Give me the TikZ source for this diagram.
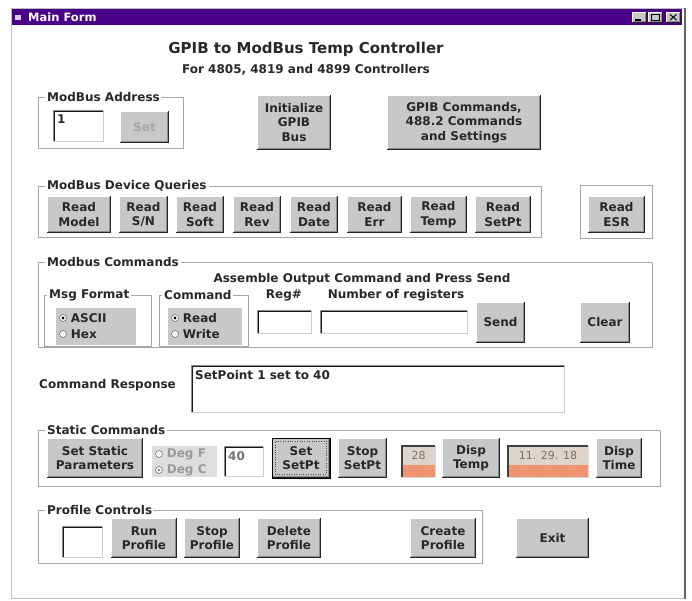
\documentclass[tikz,border=0pt]{standalone}
\usepackage{fontspec}
\setmainfont{DejaVu Sans}
\usetikzlibrary{calc,positioning,patterns}

\definecolor{titlebar}{RGB}{72,0,136}
\definecolor{btnface}{RGB}{200,200,200}
\definecolor{dispface}{RGB}{222,212,206}
\definecolor{dispglow}{RGB}{244,150,116}
\definecolor{inktext}{RGB}{40,40,40}

\newcommand{\formfont}{\fontsize{12}{14.5}\selectfont\bfseries}
\newcommand{\headfont}{\fontsize{15}{18}\selectfont\bfseries}

\tikzset{
	every node/.style={text=inktext},
	winbtn/.style={fill=btnface, inner sep=0pt, outer sep=0pt, align=center, font=\formfont},
	entry/.style={fill=white, inner sep=0pt, outer sep=0pt},
	entrytext/.style={inner sep=0pt, anchor=north west, font=\formfont},
	groupframe/.style={draw=black!35, inner sep=0pt, outer sep=0pt},
	grouplabel/.style={fill=white, inner sep=2pt, anchor=west, font=\formfont},
	formtext/.style={inner sep=0pt, font=\formfont},
	radiodot/.style={circle, draw=black!75, fill=white, inner sep=0pt, minimum size=7pt},
	radiotext/.style={inner sep=0pt, font=\formfont},
	dispbox/.style={fill=dispface, inner sep=0pt, outer sep=0pt},
	disptext/.style={inner sep=0pt, text=black!55, font=\fontsize{11}{13}\selectfont}
}

\def\winbutton(#1)(#2,#3)(#4,#5)#6{%
	\node[winbtn, minimum width={#4-#2}, minimum height={#5-#3}] (#1) at ({(#2+#4)/2},{(#3+#5)/2}) {#6};
	\draw[white, line width=1pt] ([xshift=0.5pt]#1.south west) -- ([xshift=0.5pt,yshift=-0.5pt]#1.north west) -- ([yshift=-0.5pt]#1.north east);
	\draw[black!45, line width=1pt] ([xshift=1pt,yshift=1.8pt]#1.south west) -- ([xshift=-1.8pt,yshift=1.8pt]#1.south east) -- ([xshift=-1.8pt,yshift=-1pt]#1.north east);
	\draw[black!85, line width=1.2pt] ([yshift=0.6pt]#1.south west) -- ([xshift=-0.6pt,yshift=0.6pt]#1.south east) -- ([xshift=-0.6pt]#1.north east);}

\def\editbox(#1)(#2,#3)(#4,#5){%
	\node[entry, minimum width={#4-#2}, minimum height={#5-#3}] (#1) at ({(#2+#4)/2},{(#3+#5)/2}) {};
	\draw[black!45, line width=1pt] ([xshift=0.5pt]#1.south west) -- ([xshift=0.5pt,yshift=-0.5pt]#1.north west) -- ([yshift=-0.5pt]#1.north east);
	\draw[black!90, line width=1pt] ([xshift=1.5pt,yshift=1pt]#1.south west) -- ([xshift=1.5pt,yshift=-1.5pt]#1.north west) -- ([xshift=-1pt,yshift=-1.5pt]#1.north east);
	\draw[black!20, line width=1pt] ([yshift=0.5pt]#1.south west) -- ([xshift=-0.5pt,yshift=0.5pt]#1.south east) -- ([xshift=-0.5pt]#1.north east);}

\def\groupbox(#1)(#2,#3)(#4,#5){%
	\node[groupframe, minimum width={#4-#2}, minimum height={#5-#3}] (#1) at ({(#2+#4)/2},{(#3+#5)/2}) {};}

\def\radio(#1)(#2,#3)#4#5{%
	\node[radiodot] (#1) at (#2,#3) {};
	\fill[#5] (#1) circle (1.7pt);
	\node[radiotext, right=4pt of #1] (#1-text) {#4};}

\def\display(#1)(#2,#3)(#4,#5)#6{%
	\node[dispbox, minimum width={#4-#2}, minimum height={#5-#3}] (#1) at ({(#2+#4)/2},{(#3+#5)/2}) {};
	\fill[dispglow] (#1.south west) rectangle ([yshift=12pt]#1.south east);
	\fill[pattern=dots, pattern color=dispglow!75!black] (#1.south west) rectangle ([yshift=12pt]#1.south east);
	\draw[black!75, line width=1.4pt] (#1.south west) -- (#1.north west) -- (#1.north east);
	\draw[black!15, line width=1pt] (#1.south west) -- (#1.south east) -- (#1.north east);
	\node[disptext] (#1-value) at ([yshift=-9pt]#1.north) {#6};}

\begin{document}
\begin{tikzpicture}[x=1pt, y=-1pt]
		%%%%% START %%%%%
		\useasboundingbox (0,0) rectangle (692,600);
		\fill[white] (0,0) rectangle (692,600);
		
		% window and title bar
		\draw[black!25, line width=1pt] (11,8) rectangle (684,598);
		\draw[black!60, line width=1.5pt] (685,8) -- (685,599);
		\fill[titlebar] (12,9) rectangle (682,25);
		\fill[white!80!titlebar] (15,15) rectangle (21,20);
		\node[text=white, anchor=west, inner sep=0pt, font=\fontsize{11.5}{13}\selectfont\bfseries] (formName) at (28,17) {Main Form};
		\winbutton(minBox)(632,12)(647,23){}
		\winbutton(maxBox)(648,12)(663,23){}
		\winbutton(closeBox)(666,12)(681,23){}
		\draw[line width=1.5pt] ([shift={(3pt,3pt)}]minBox.south west) -- ++(6pt,0pt);
		\draw[line width=0.8pt] ([shift={(3pt,3pt)}]maxBox.south west) rectangle ([shift={(-4pt,-2.5pt)}]maxBox.north east);
		\draw[line width=1pt] ([shift={(4pt,3pt)}]closeBox.south west) -- ([shift={(-4.5pt,-2.5pt)}]closeBox.north east);
		\draw[line width=1pt] ([shift={(4pt,-2.5pt)}]closeBox.north west) -- ([shift={(-4.5pt,3pt)}]closeBox.south east);
		
		\node[font=\headfont] (heading) at (306,49) {GPIB to ModBus Temp Controller};
		\node[formtext] (subheading) at (306,70) {For 4805, 4819 and 4899 Controllers};
		
		% address and bus
		\groupbox(addrGrp)(38,97)(183,148)
		\node[grouplabel] (addrTitle) at ([xshift=7pt]addrGrp.north west) {ModBus Address};
		\editbox(addrBox)(53,110)(104,142)
		\node[entrytext] (addrVal) at ([shift={(4pt,-5pt)}]addrBox.north west) {1};
		\winbutton(setAddr)(120,111)(169,143){\textcolor{black!35}{Set}}
		\winbutton(initGpib)(257,95)(331,150){Initialize\\GPIB\\Bus}
		\winbutton(gpibCmds)(387,95)(541,150){GPIB Commands,\\488.2 Commands\\and Settings}
		
		% device queries
		\groupbox(queryGrp)(38,186)(541,237)
		\node[grouplabel] (queryTitle) at ([xshift=7pt]queryGrp.north west) {ModBus Device Queries};
		\winbutton(rdModel)(47,196)(111,233){Read\\Model}
		\winbutton(rdSN)(119,196)(168,233){Read\\S/N}
		\winbutton(rdSoft)(176,196)(224,233){Read\\Soft}
		\winbutton(rdRev)(233,196)(281,233){Read\\Rev}
		\winbutton(rdDate)(290,196)(338,233){Read\\Date}
		\winbutton(rdErr)(347,196)(402,233){Read\\Err}
		\winbutton(rdTemp)(410,196)(467,233){Read\\Temp}
		\winbutton(rdSetPt)(475,196)(531,233){Read\\SetPt}
		\groupbox(esrGrp)(580,185)(652,238)
		\winbutton(rdESR)(588,196)(645,233){Read\\ESR}
		
		% modbus commands
		\groupbox(cmdGrp)(38,262)(652,347)
		\node[grouplabel] (cmdTitle) at ([xshift=7pt]cmdGrp.north west) {Modbus Commands};
		\node[formtext] (assemble) at (362,279) {Assemble Output Command and Press Send};
		\groupbox(fmtGrp)(44,295)(151,346)
		\node[grouplabel] (fmtTitle) at ([xshift=3pt]fmtGrp.north west) {Msg Format};
		\fill[btnface] (56,308) rectangle (136,345);
		\radio(rbAscii)(63,318){ASCII}{black}
		\radio(rbHex)(63,334){Hex}{white}
		\groupbox(opGrp)(159,295)(248,346)
		\node[grouplabel] (opTitle) at ([xshift=3pt]opGrp.north west) {Command};
		\fill[btnface] (168,308) rectangle (242,345);
		\radio(rbRead)(175,318){Read}{black}
		\radio(rbWrite)(175,334){Write}{white}
		\node[formtext] (regTitle) at (284,295) {Reg\#};
		\node[formtext] (countTitle) at (396,295) {Number of registers};
		\editbox(regBox)(257,310)(312,334)
		\editbox(countBox)(320,310)(468,334)
		\winbutton(sendBtn)(476,302)(525,343){Send}
		\winbutton(clearBtn)(580,302)(630,343){Clear}
		
		% response
		\node[formtext, anchor=west] (replyTitle) at (39,385) {Command Response};
		\editbox(replyBox)(191,365)(565,413)
		\node[entrytext] (replyVal) at ([shift={(4pt,-5pt)}]replyBox.north west) {SetPoint 1 set to 40};
		
		% static commands
		\groupbox(staticGrp)(38,430)(660,486)
		\node[grouplabel] (staticTitle) at ([xshift=7pt]staticGrp.north west) {Static Commands};
		\winbutton(setStatic)(47,438)(143,478){Set Static\\Parameters}
		\fill[btnface!60!white] (152,446) rectangle (217,477);
		\radio(rbDegF)(159,454){\textcolor{black!40}{Deg F}}{white}
		\radio(rbDegC)(159,470){\textcolor{black!40}{Deg C}}{black!40}
		\editbox(setPtBox)(224,446)(264,477)
		\node[entrytext, text=black!55] (setPtVal) at ([shift={(4pt,-5pt)}]setPtBox.north west) {40};
		\winbutton(setSetPt)(272,438)(330,478){Set\\SetPt}
		\draw[black, line width=1pt] (setSetPt.south west) rectangle (setSetPt.north east);
		\draw[black!70, dotted] ([shift={(3pt,4pt)}]setSetPt.south west) rectangle ([shift={(-4pt,-3pt)}]setSetPt.north east);
		\winbutton(stopSetPt)(338,438)(387,478){Stop\\SetPt}
		\display(tempDisp)(402,446)(435,477){28}
		\winbutton(dispTemp)(442,438)(500,478){Disp\\Temp}
		\display(timeDisp)(508,446)(588,477){11. 29. 18}
		\winbutton(dispTime)(596,438)(642,478){Disp\\Time}
		
		% profiles
		\groupbox(profGrp)(38,510)(482,563)
		\node[grouplabel] (profTitle) at ([xshift=7pt]profGrp.north west) {Profile Controls};
		\editbox(profileBox)(62,526)(103,558)
		\winbutton(runProf)(111,518)(177,558){Run\\Profile}
		\winbutton(stopProf)(184,518)(240,558){Stop\\Profile}
		\winbutton(delProf)(257,518)(321,558){Delete\\Profile}
		\winbutton(newProf)(410,518)(476,558){Create\\Profile}
		\winbutton(exitBtn)(516,518)(589,558){Exit}
		
		%%%%% END %%%%%
	\end{tikzpicture}
\end{document}
